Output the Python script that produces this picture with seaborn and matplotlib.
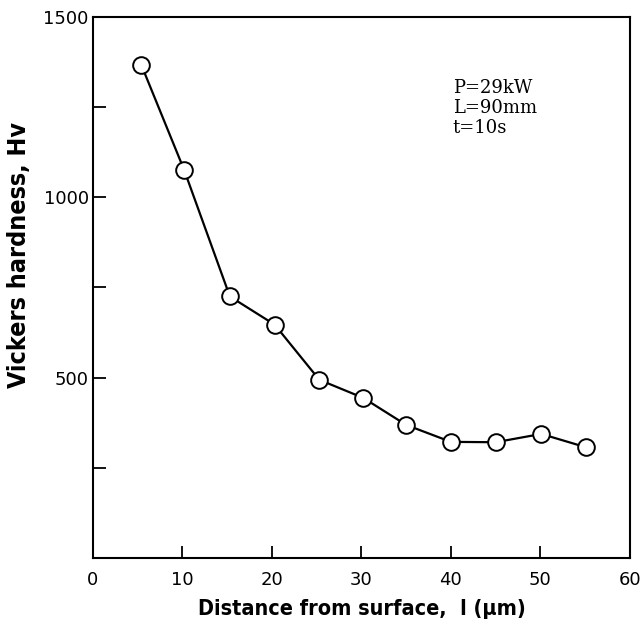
import matplotlib
matplotlib.use("Agg")
import matplotlib.pyplot as plt
import seaborn as sns
import pandas as pd

distance = [5.4, 10.2, 15.3, 20.3, 25.3, 30.2, 35.0, 40.0, 45.0, 50.1, 55.1]
hardness = [1367, 1075, 725, 647, 494, 444, 369, 322, 321, 344, 307]
x_ticks = [0, 10, 20, 30, 40, 50, 60]
y_major = [500, 1000, 1500]
y_minor = [250, 750, 1250]
note_lines = ["P=29kW", "L=90mm", "t=10s"]

sns.set_style("white")
plt.rcParams['font.family'] = ['DejaVu Sans']

df = pd.DataFrame({"d": distance, "h": hardness})
fig = plt.figure(figsize=(6.44, 6.27), dpi=100)
ax = fig.add_axes([0.1444, 0.110, 0.8336, 0.863])

sns.lineplot(data=df, x="d", y="h", ax=ax, color="black", linewidth=1.6,
             marker="o", markersize=12, markerfacecolor="white",
             markeredgecolor="black", markeredgewidth=1.4, zorder=3)

ax.set_xlim(0, 60)
ax.set_ylim(0, 1500)
ax.set_xticks(x_ticks)
ax.set_xticklabels([str(v) for v in x_ticks])
ax.set_yticks(y_major)
ax.set_yticklabels([str(v) for v in y_major])
ax.set_yticks(y_minor, minor=True)
ax.tick_params(axis="both", which="both", direction="in", length=9, width=1.3,
               labelsize=13, colors="black", bottom=True, left=True,
               top=False, right=False)
ax.tick_params(axis="x", pad=9)
ax.tick_params(axis="y", pad=3)
for s in ax.spines.values():
    s.set_visible(True)
    s.set_linewidth(1.5)
    s.set_color("black")

xlabel_font = dict(family="DejaVu Sans", weight="bold", size=15.5,
                   fontstretch="condensed", color="black")
ylabel_font = dict(family="DejaVu Sans", weight="bold", size=18,
                   fontstretch="condensed", color="black")
ax.set_xlabel("Distance from surface,  l (\u03bcm)", **xlabel_font)
ax.set_ylabel("Vickers hardness, Hv", **ylabel_font)
ax.xaxis.set_label_coords(0.501, -0.076)
ax.yaxis.set_label_coords(-0.116, 0.560)

ax.text(0.670, 0.886, "\n".join(note_lines), transform=ax.transAxes,
        family=["DejaVu Serif"], fontsize=13, va="top",
        ha="left", linespacing=1.15, color="black")

fig.savefig("out.png", dpi=100)
